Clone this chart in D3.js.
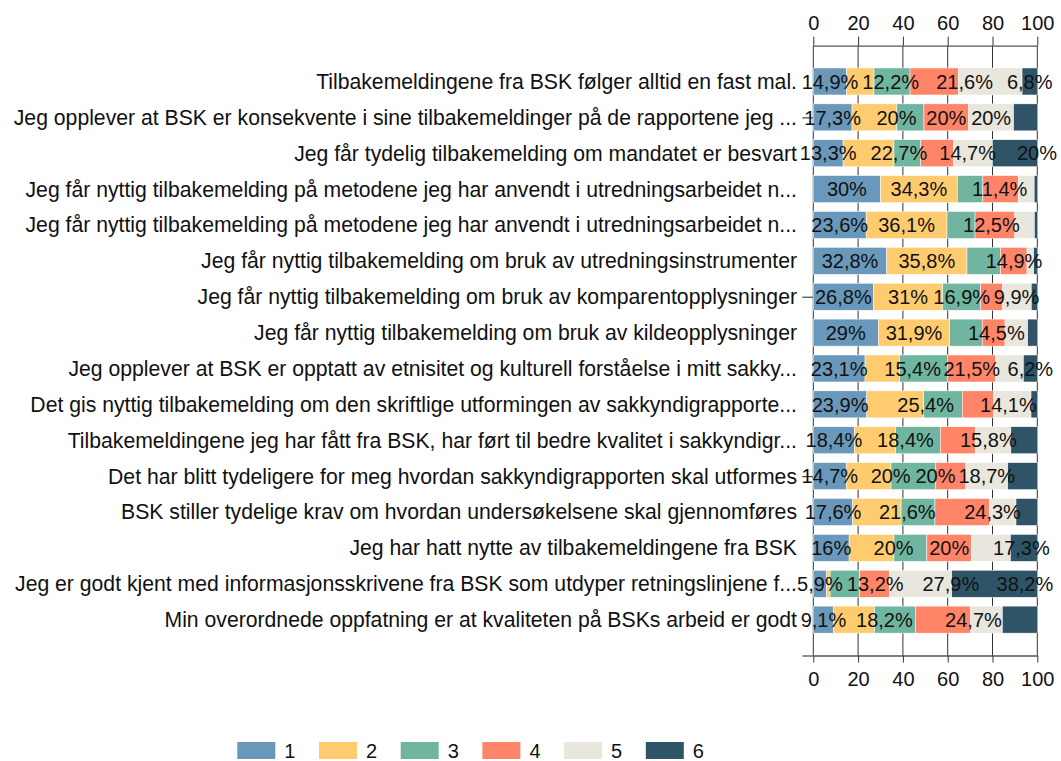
<!DOCTYPE html>
<html>
<head>
<meta charset="utf-8">
<script src="https://cdn.jsdelivr.net/npm/d3@7"></script>
<style>
	body { margin: 0; background: #fff; }
	svg text { font-family: "Liberation Sans", Arial, sans-serif; fill: #111; }
</style>
</head>
<body>
<svg id="chart" width="1061" height="761"></svg>
<script>
// questions, top to bottom
var categories = [
	"Tilbakemeldingene fra BSK følger alltid en fast mal.",
	"Jeg opplever at BSK er konsekvente i sine tilbakemeldinger på de rapportene jeg ...",
	"Jeg får tydelig tilbakemelding om mandatet er besvart",
	"Jeg får nyttig tilbakemelding på metodene jeg har anvendt i utredningsarbeidet n...",
	"Jeg får nyttig tilbakemelding på metodene jeg har anvendt i utredningsarbeidet n...",
	"Jeg får nyttig tilbakemelding om bruk av utredningsinstrumenter",
	"Jeg får nyttig tilbakemelding om bruk av komparentopplysninger",
	"Jeg får nyttig tilbakemelding om bruk av kildeopplysninger",
	"Jeg opplever at BSK er opptatt av etnisitet og kulturell forståelse i mitt sakky...",
	"Det gis nyttig tilbakemelding om den skriftlige utformingen av sakkyndigrapporte...",
	"Tilbakemeldingene jeg har fått fra BSK, har ført til bedre kvalitet i sakkyndigr...",
	"Det har blitt tydeligere for meg hvordan sakkyndigrapporten skal utformes",
	"BSK stiller tydelige krav om hvordan undersøkelsene skal gjennomføres",
	"Jeg har hatt nytte av tilbakemeldingene fra BSK",
	"Jeg er godt kjent med informasjonsskrivene fra BSK som utdyper retningslinjene f...",
	"Min overordnede oppfatning er at kvaliteten på BSKs arbeid er godt"
];

// percent answering 1..6, one array per answer, same order as categories
var answer1 = [14.9, 17.3, 13.3, 30, 23.6, 32.8, 26.8, 29, 23.1, 23.9, 18.4, 14.7, 17.6, 16, 5.9, 9.1];
var answer2 = [12.2, 20, 22.7, 34.3, 36.1, 35.8, 31, 31.9, 15.4, 25.4, 18.4, 20, 21.6, 20, 1.6, 18.2];
var answer3 = [16.1, 12.1, 12, 11.4, 12.5, 14.9, 16.9, 14.5, 21.5, 17.2, 19.9, 20, 15.1, 14.7, 13.2, 18.3];
var answer4 = [21.6, 20, 14.7, 15.8, 17.8, 11.9, 9.9, 10.2, 21.5, 14.1, 15.8, 13.4, 24.3, 20, 13.2, 24.7];
var answer5 = [28.4, 20, 17.3, 7.1, 8.7, 3, 12.7, 10.1, 12.3, 16.6, 15.7, 18.7, 11.9, 17.3, 27.9, 14.1];
var answer6 = [6.8, 10.6, 20, 1.4, 1.3, 1.6, 2.7, 4.3, 6.2, 2.8, 11.8, 13.2, 9.5, 12, 38.2, 15.6];

var answerNames = ["1", "2", "3", "4", "5", "6"];
var answerColors = ["#6a98ba", "#ffcb6f", "#70b5a0", "#ff8468", "#e8e6dd", "#2f5467"];
var xTicks = [0, 20, 40, 60, 80, 100];
var rowTicks = [2, 7, 12, 17];

var W = 1061, H = 761;
var svg = d3.select("#chart");

var x = d3.scaleLinear().domain([0, 100]).range([813.3, 1037.3]);
// rows are at 1..16, axes sit at 0 and 17
var y = d3.scaleLinear().domain([0, 17]).range([45.6, 655.5]);
var barH = 27;
var keys = ["a0", "a1", "a2", "a3", "a4", "a5"];

/*
Build table: one row per question, stacked with d3.stack
*/
var table = categories.map(function(c, i) {
	return { cat: c, row: i + 1, a0: answer1[i], a1: answer2[i], a2: answer3[i], a3: answer4[i], a4: answer5[i], a5: answer6[i] };
});
var stacked = d3.stack().keys(keys)(table);

/*
Grid lines behind the bars
*/
svg.append("g").attr("class", "grid")
	.selectAll("line").data(xTicks).join("line")
	.attr("x1", d => x(d)).attr("x2", d => x(d))
	.attr("y1", y(0)).attr("y2", y(17))
	.attr("stroke", "#333").attr("stroke-width", 1);

/*
Axes
*/
var topAxis = svg.append("g").attr("transform", "translate(0," + y(0) + ")")
	.call(d3.axisTop(x).tickValues(xTicks).tickSize(9).tickSizeOuter(0).tickPadding(7));
var bottomAxis = svg.append("g").attr("transform", "translate(0," + y(17) + ")")
	.call(d3.axisBottom(x).tickValues(xTicks).tickSize(7).tickSizeOuter(0).tickPadding(9));
[topAxis, bottomAxis].forEach(function(a) {
	a.selectAll("text").style("font-size", "20px").attr("fill", "#111");
	a.selectAll("line").attr("stroke", "#333");
	a.select(".domain").attr("stroke", "#555").attr("stroke-width", 1.3);
});
var leftAxis = svg.append("g").attr("transform", "translate(" + x(0) + ",0)")
	.call(d3.axisLeft(y).tickValues(rowTicks).tickSize(11).tickFormat(""));
leftAxis.select(".domain").remove();
leftAxis.selectAll("line").attr("stroke", "#444").attr("stroke-width", 1.2);

/*
Bars
*/
svg.append("g").attr("class", "bars")
	.selectAll("g").data(stacked).join("g")
	.attr("fill", (d, i) => answerColors[i])
	.selectAll("rect").data(d => d).join("rect")
	.attr("x", d => x(d[0]))
	.attr("y", d => y(d.data.row) - barH / 2)
	.attr("width", d => x(d[1]) - x(d[0]))
	.attr("height", barH)
	.attr("stroke", "#fff").attr("stroke-width", 0.5);

/*
Question texts
*/
svg.append("g").selectAll("text").data(table).join("text")
	.attr("x", 797).attr("y", d => y(d.row)).attr("dy", "0.35em")
	.attr("text-anchor", "end").style("font-size", "21.2px")
	.text(d => d.cat);

/*
Segment labels: centred when there is room, otherwise started at the
segment centre, otherwise dropped (also dropped when off the page)
*/
function fmt(v) {
	return (Number.isInteger(v) ? String(v) : v.toFixed(1).replace(".", ",")) + "%";
}
var labelPad = 2, labelGap = 2.2;
var labelLayer = svg.append("g");
table.forEach(function(r, i) {
	var prevRight = -Infinity;
	stacked.forEach(function(s, k) {
		var seg = s[i];
		var cx = x((seg[0] + seg[1]) / 2);
		var t = labelLayer.append("text")
			.attr("y", y(r.row)).attr("dy", "0.36em")
			.style("font-size", "20px").text(fmt(r[keys[k]]));
		var w = t.node().getComputedTextLength();
		if (cx - w / 2 >= prevRight + labelGap) {
			t.attr("x", cx).attr("text-anchor", "middle");
			prevRight = cx + w / 2;
		} else if (cx + labelPad >= prevRight + labelGap && cx + labelPad + w <= W) {
			t.attr("x", cx + labelPad).attr("text-anchor", "start");
			prevRight = cx + labelPad + w;
		} else {
			t.remove();
		}
	});
});

/*
Legend
*/
var legend = svg.append("g").selectAll("g").data(answerNames).join("g")
	.attr("transform", (d, i) => "translate(" + (237.3 + i * 81.7) + ",742)");
legend.append("rect").attr("width", 38).attr("height", 17).attr("fill", (d, i) => answerColors[i]);
legend.append("text").attr("x", 47).attr("y", 8.5).attr("dy", "0.36em")
	.style("font-size", "20px").text(d => d);
</script>
</body>
</html>
